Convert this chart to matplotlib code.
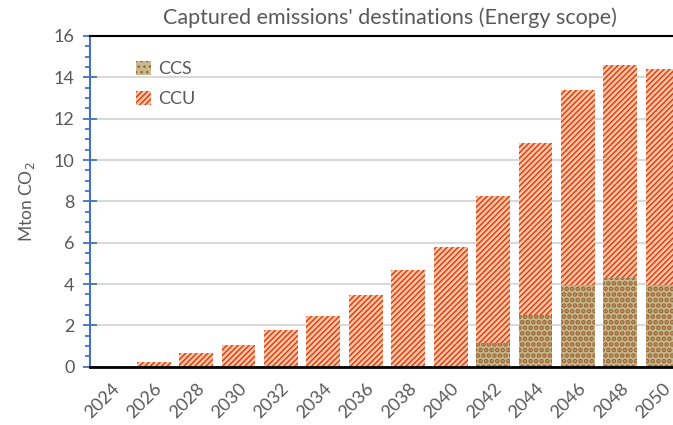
import matplotlib
matplotlib.use("Agg")
import matplotlib.pyplot as plt
import numpy as np
from matplotlib.ticker import MultipleLocator
from matplotlib.patches import Patch

years = ["2024", "2026", "2028", "2030", "2032", "2034", "2036", "2038",
         "2040", "2042", "2044", "2046", "2048", "2050"]
ccs = [0, 0, 0, 0, 0, 0, 0, 0, 0, 1.15, 2.5, 3.95, 4.3, 3.95]
total = [0, 0.22, 0.65, 1.03, 1.78, 2.47, 3.47, 4.68, 5.81, 8.25, 10.84, 13.39, 14.6, 14.4]
ccu = [t - s for t, s in zip(total, ccs)]

plt.rcParams['font.family'] = ['Lato', 'DejaVu Sans']
plt.rcParams['hatch.linewidth'] = 1.0

fig = plt.figure(figsize=(6.73, 4.25), dpi=100)
ax = fig.add_axes([90/673, 1-366.7/425, (684-90)/673, (366.7-36)/425])

x = np.arange(len(years))
ccs_face = '#C9BA8C'
ccs_edge = '#9A6236'
ccu_face = '#FBC89A'
ccu_edge = '#E0321F'
ccs_hatch = '...'
ccu_hatch = '//////'

b1 = ax.bar(x, ccs, width=0.8, color=ccs_face, edgecolor=ccs_edge, hatch=ccs_hatch, linewidth=0, zorder=2)
b2 = ax.bar(x, ccu, bottom=ccs, width=0.8, color=ccu_face, edgecolor=ccu_edge, hatch=ccu_hatch, linewidth=0, zorder=2)

handles = [Patch(facecolor=ccs_face, edgecolor=ccs_edge, hatch=ccs_hatch, linewidth=0),
           Patch(facecolor=ccu_face, edgecolor=ccu_edge, hatch=ccu_hatch, linewidth=0)]

for p in list(b1) + [handles[0]]:
    try:
        p.set_hatch_linewidth(2.4)
    except Exception:
        pass

ax.set_xlim(-0.5, len(years) - 0.5)
ax.set_ylim(0, 16)
ax.yaxis.set_major_locator(MultipleLocator(2))
ax.yaxis.set_minor_locator(MultipleLocator(0.5))
ax.grid(axis='y', color='#D9D9D9', linewidth=1.5, zorder=0)
ax.set_axisbelow(True)

ax.set_xticks(x)
ax.set_xticklabels(years, rotation=45, ha='right', rotation_mode='anchor', fontsize=13, color='#595959')
ax.tick_params(axis='x', length=0, pad=10)
ax.tick_params(axis='y', which='major', direction='inout', length=10, width=1.3, color='#4472C4', labelsize=13, labelcolor='#595959', pad=6)
ax.tick_params(axis='y', which='minor', direction='out', length=3.6, width=1.3, color='#4472C4')

ax.spines['right'].set_visible(False)
ax.spines['left'].set_color('#4472C4')
ax.spines['left'].set_linewidth(1.5)
ax.spines['bottom'].set_color('black')
ax.spines['bottom'].set_linewidth(2)
ax.spines['top'].set_color('black')
ax.spines['top'].set_linewidth(1.5)

ax.set_ylabel('Mton CO$_2$', fontsize=12.5, color='#595959', labelpad=12)
fig.text(390/673, 1-18/425, "Captured emissions' destinations (Energy scope)", ha='center', va='center', fontsize=15.5, color='#595959')

leg = ax.legend(handles, ['CCS', 'CCU'], loc='upper left', bbox_to_anchor=(0.05, 0.975), frameon=False,
                fontsize=13, handlelength=0.85, handleheight=0.85, handletextpad=0.4, labelspacing=0.75)
for t in leg.get_texts():
    t.set_color('#595959')

fig.savefig('out.png', dpi=100)
